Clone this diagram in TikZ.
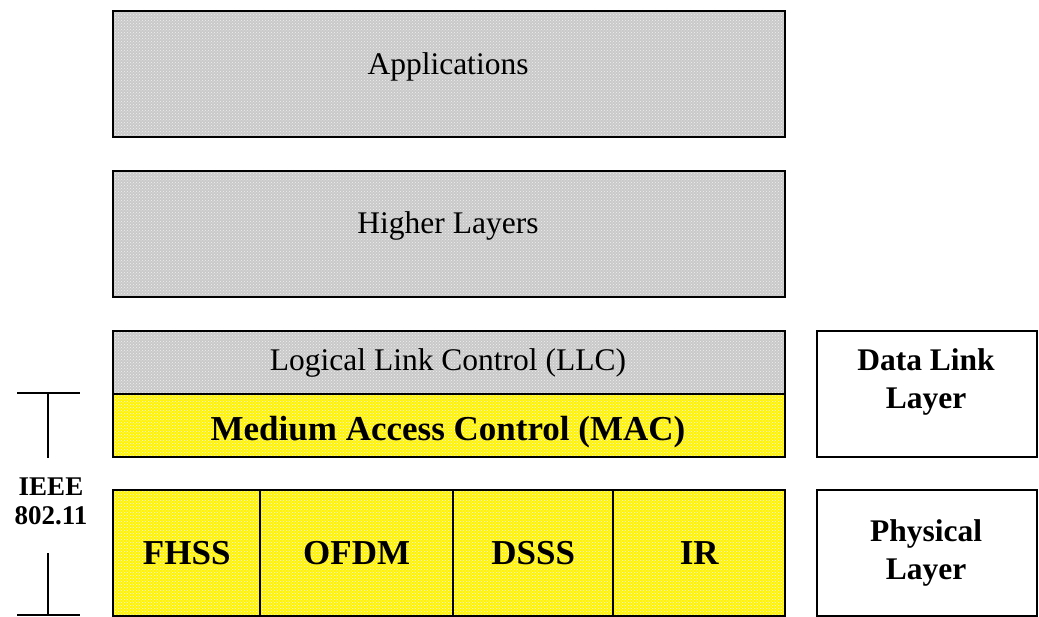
\documentclass[tikz,border=0pt]{standalone}
\usepackage{fontspec}
\setmainfont{Liberation Serif}
\usetikzlibrary{patterns}
\begin{document}
\begin{tikzpicture}[x=1pt,y=-1pt,
  layerbox/.style={draw=black, line width=2.4pt, inner sep=0pt, anchor=north west},
  greybox/.style={layerbox, preaction={fill=gray!42}, pattern=crosshatch dots, pattern color=white!88!gray},
  yellowbox/.style={layerbox, preaction={fill=yellow}, pattern=crosshatch dots, pattern color=white},
  plainbox/.style={layerbox, fill=white},
  normtxt/.style={font=\fontsize{31.5}{36}\selectfont},
  boldtxt/.style={font=\fontsize{35}{38}\selectfont\bfseries},
  sidetxt/.style={font=\fontsize{31.5}{38.5}\selectfont\bfseries, align=center},
  ieeetxt/.style={font=\fontsize{27}{29}\selectfont\bfseries, align=center},
  bracket/.style={line width=2pt}]
\useasboundingbox (0,0) rectangle (1039,616);
% main stack
\node[greybox, minimum width=672pt, minimum height=126pt] (app) at (112,10) {};
\node[normtxt] (appt) at (448,67) {Applications};
\node[greybox, minimum width=672pt, minimum height=126pt] (hl) at (112,170) {};
\node[normtxt] (hlt) at (448,226) {Higher Layers};
\node[greybox, minimum width=672pt, minimum height=63pt] (llc) at (112,330) {};
\node[normtxt] (llct) at (448,363) {Logical Link Control (LLC)};
\node[yellowbox, minimum width=672pt, minimum height=63pt] (mac) at (112,393) {};
\node[boldtxt] (mact) at (448,432) {Medium Access Control (MAC)};
% physical sub-layers
\node[yellowbox, minimum width=147pt, minimum height=126pt] (fhss) at (112,489) {};
\node[yellowbox, minimum width=193pt, minimum height=126pt] (ofdm) at (259,489) {};
\node[yellowbox, minimum width=160pt, minimum height=126pt] (dsss) at (452,489) {};
\node[yellowbox, minimum width=172pt, minimum height=126pt] (ir) at (612,489) {};
\node[boldtxt] at (fhss.center) {FHSS};
\node[boldtxt] at (ofdm.center) {OFDM};
\node[boldtxt] at (dsss.center) {DSSS};
\node[boldtxt] at (ir.center) {IR};
% right side
\node[plainbox, minimum width=220pt, minimum height=126pt] (dll) at (816,330) {};
\node[sidetxt] (dllt) at (926,382) {Data Link\\Layer};
\node[plainbox, minimum width=220pt, minimum height=126pt] (phy) at (816,489) {};
\node[sidetxt] (phyt) at (926,553) {Physical\\Layer};
% IEEE bracket
\node[ieeetxt] (ieee) at (51,501) {IEEE\\802.11};
\coordinate (tl) at (17,393);
\coordinate (tr) at (80,393);
\coordinate (tm) at (48,393);
\coordinate (te) at (48,458);
\coordinate (bs) at (48,553);
\coordinate (bm) at (48,615);
\coordinate (bl) at (17,615);
\coordinate (br) at (80,615);
\draw[bracket] (tl) -- (tr);
\draw[bracket] (tm) -- (te);
\draw[bracket] (bs) -- (bm);
\draw[bracket] (bl) -- (br);
\end{tikzpicture}
\end{document}
